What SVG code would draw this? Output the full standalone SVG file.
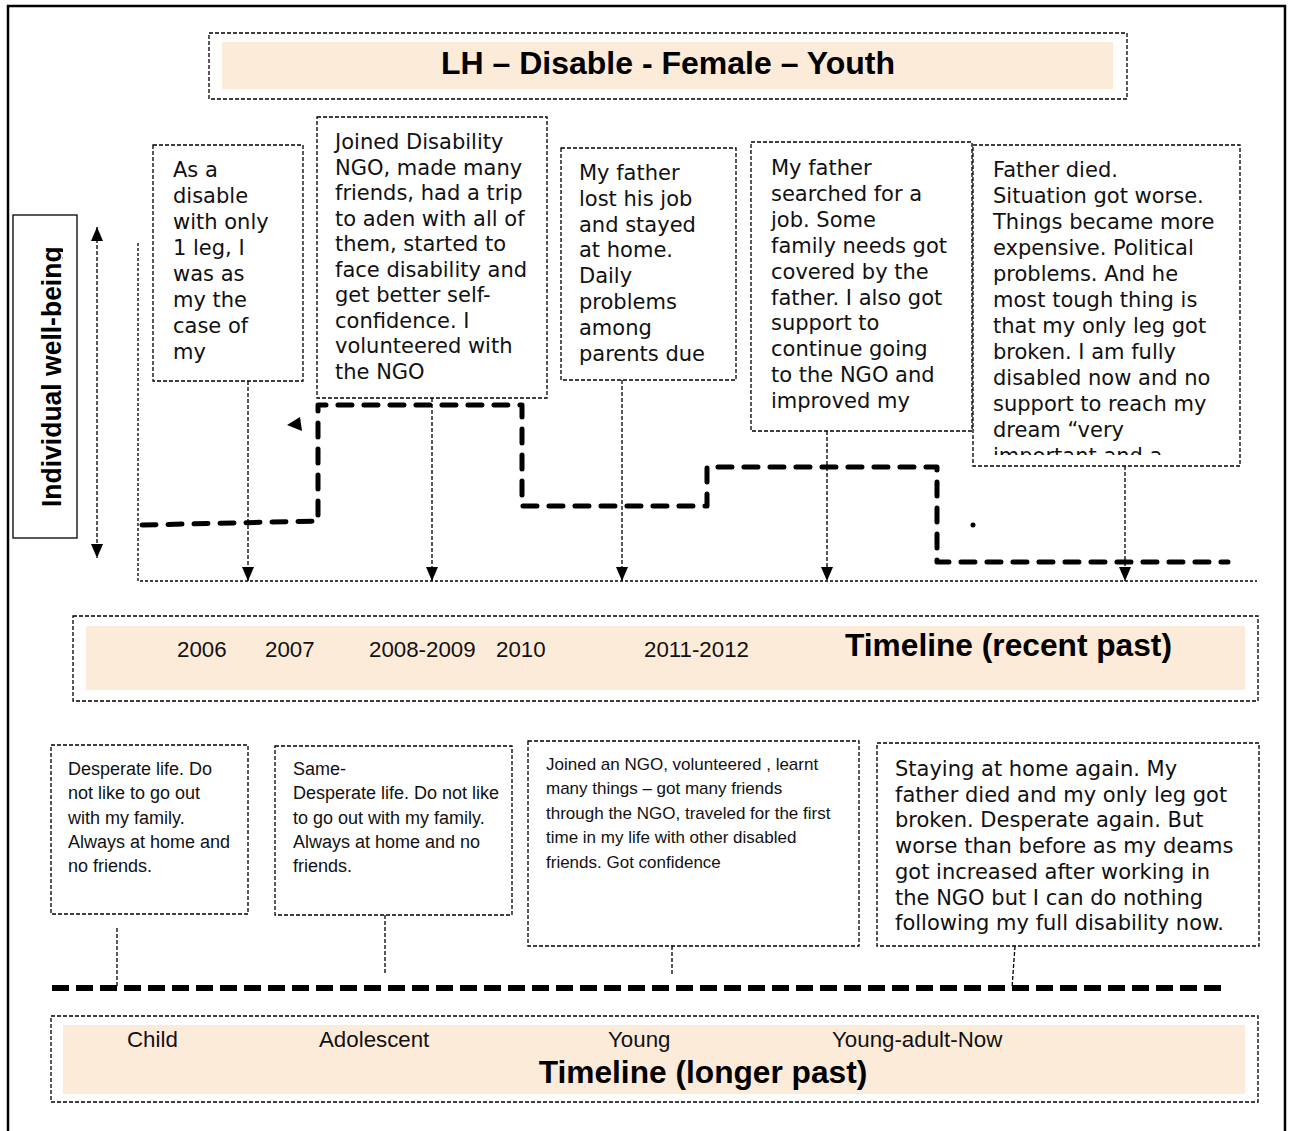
<svg xmlns="http://www.w3.org/2000/svg" width="1292" height="1131" viewBox="0 0 1292 1131">
<style>
.box{fill:#fff;stroke:#000;stroke-width:1.3;stroke-dasharray:4 2}
.band{fill:#FDEBDA;stroke:none}
.ver{font-family:"DejaVu Sans",Verdana,sans-serif;font-size:21px;fill:#111}
.ar{font-family:"Liberation Sans",Arial,sans-serif;font-size:18px;fill:#111}
.ar17{font-family:"Liberation Sans",Arial,sans-serif;font-size:17px;fill:#111}
.lab{font-family:"Liberation Sans",Arial,sans-serif;font-size:22.3px;fill:#111}
.big{font-family:"Liberation Sans",Arial,sans-serif;font-size:31.7px;font-weight:bold;fill:#000}
.con{fill:none;stroke:#000;stroke-width:1.3;stroke-dasharray:4 2}
.thick{fill:none;stroke:#000;stroke-width:5;stroke-dasharray:14 12;stroke-linecap:round;stroke-linejoin:round}
.thick2{fill:none;stroke:#000;stroke-width:6;stroke-dasharray:17 7}
</style>
<defs>
<marker id="ah" markerUnits="userSpaceOnUse" markerWidth="14" markerHeight="14" viewBox="0 0 14 12" refX="14" refY="6" orient="auto-start-reverse"><path d="M0,0 L14,6 L0,12 z" fill="#000"/></marker>
<clipPath id="clip5"><rect x="973" y="145" width="267" height="310"/></clipPath>
<clipPath id="clipL"><rect x="13" y="215" width="50" height="323"/></clipPath>
</defs>
<rect x="8" y="6" width="1277" height="1140" fill="none" stroke="#000" stroke-width="2.5"/>

<g id="title">
<rect class="box" x="209" y="33" width="918" height="66"/>
<rect class="band" x="222" y="42" width="891" height="47"/>
<text class="big" x="668" y="74" text-anchor="middle" style="font-size:32px">LH – Disable - Female – Youth</text>
</g>

<g id="axis-label">
<rect x="13" y="215" width="64" height="323" fill="#fff" stroke="#000" stroke-width="1.3"/>
<g clip-path="url(#clipL)">
<text transform="translate(61,507) rotate(-90) scale(0.93,1)" style="font-family:'Liberation Sans',Arial,sans-serif;font-size:28.5px;font-weight:bold">Individual well-being</text>
</g>
</g>

<g id="connectors">
<line class="con" x1="97" y1="227" x2="97" y2="558" marker-start="url(#ah)" marker-end="url(#ah)"/>
<path class="con" d="M138,243 L138,581 L1257,581" style="stroke-dasharray:3 2"/>
<line class="con" x1="248" y1="381" x2="248" y2="581" marker-end="url(#ah)"/>
<line class="con" x1="432" y1="398" x2="432" y2="581" marker-end="url(#ah)"/>
<line class="con" x1="622" y1="380" x2="622" y2="581" marker-end="url(#ah)"/>
<line class="con" x1="827" y1="431" x2="827" y2="581" marker-end="url(#ah)"/>
<line class="con" x1="1125" y1="466" x2="1125" y2="581" marker-end="url(#ah)"/>
<path class="thick" d="M142,525 L318,521 L318,405 L522,405 L522,506 L707,506 L707,467 L937,467 L937,562 L1228,562"/>
<polygon points="300,417 302,431 287,425" fill="#000"/>
<circle cx="973" cy="525" r="2.5" fill="#000"/>
<line class="con" x1="117" y1="928" x2="117" y2="988"/>
<line class="con" x1="385" y1="915" x2="385" y2="975"/>
<line class="con" x1="672" y1="946" x2="672" y2="975"/>
<line class="con" x1="1015" y1="946" x2="1012" y2="988"/>
<line class="thick2" x1="52" y1="988" x2="1222" y2="988"/>
</g>

<g id="box1">
<rect class="box" x="153" y="145" width="150" height="236"/>
<text class="ver" x="173" y="177">
<tspan x="173" dy="0">As a</tspan><tspan x="173" dy="26">disable</tspan><tspan x="173" dy="26">with only</tspan><tspan x="173" dy="26">1 leg, I</tspan><tspan x="173" dy="26">was as</tspan><tspan x="173" dy="26">my the</tspan><tspan x="173" dy="26">case of</tspan><tspan x="173" dy="26">my</tspan>
</text>
</g>

<g id="box2">
<rect class="box" x="317" y="117" width="230" height="281"/>
<text class="ver" x="335" y="149">
<tspan x="335" dy="0">Joined Disability</tspan><tspan x="335" dy="25.5">NGO, made many</tspan><tspan x="335" dy="25.5">friends, had a trip</tspan><tspan x="335" dy="25.5">to aden with all of</tspan><tspan x="335" dy="25.5">them, started to</tspan><tspan x="335" dy="25.5">face disability and</tspan><tspan x="335" dy="25.5">get better self-</tspan><tspan x="335" dy="25.5">confidence. I</tspan><tspan x="335" dy="25.5">volunteered with</tspan><tspan x="335" dy="25.5">the NGO</tspan>
</text>
</g>

<g id="box3">
<rect class="box" x="561" y="148" width="175" height="232"/>
<text class="ver" x="579" y="180">
<tspan x="579" dy="0">My father</tspan><tspan x="579" dy="25.8">lost his job</tspan><tspan x="579" dy="25.8">and stayed</tspan><tspan x="579" dy="25.8">at home.</tspan><tspan x="579" dy="25.8">Daily</tspan><tspan x="579" dy="25.8">problems</tspan><tspan x="579" dy="25.8">among</tspan><tspan x="579" dy="25.8">parents due</tspan>
</text>
</g>

<g id="box4">
<rect class="box" x="751" y="142" width="221" height="289"/>
<text class="ver" x="771" y="175">
<tspan x="771" dy="0">My father</tspan><tspan x="771" dy="25.9">searched for a</tspan><tspan x="771" dy="25.9">job. Some</tspan><tspan x="771" dy="25.9">family needs got</tspan><tspan x="771" dy="25.9">covered by the</tspan><tspan x="771" dy="25.9">father. I also got</tspan><tspan x="771" dy="25.9">support to</tspan><tspan x="771" dy="25.9">continue going</tspan><tspan x="771" dy="25.9">to the NGO and</tspan><tspan x="771" dy="25.9">improved my</tspan>
</text>
</g>

<g id="box5">
<rect class="box" x="973" y="145" width="267" height="321"/>
<text class="ver" x="993" y="177" clip-path="url(#clip5)">
<tspan x="993" dy="0">Father died.</tspan><tspan x="993" dy="26">Situation got worse.</tspan><tspan x="993" dy="26">Things became more</tspan><tspan x="993" dy="26">expensive. Political</tspan><tspan x="993" dy="26">problems. And he</tspan><tspan x="993" dy="26">most tough thing is</tspan><tspan x="993" dy="26">that my only leg got</tspan><tspan x="993" dy="26">broken. I am fully</tspan><tspan x="993" dy="26">disabled now and no</tspan><tspan x="993" dy="26">support to reach my</tspan><tspan x="993" dy="26">dream “very</tspan><tspan x="993" dy="26">important and a</tspan>
</text>
</g>

<g id="timeline-recent">
<rect class="box" x="73" y="616" width="1185" height="85"/>
<rect class="band" x="86" y="626" width="1159" height="64"/>
<text class="lab" x="177" y="657">2006</text>
<text class="lab" x="265" y="657">2007</text>
<text class="lab" x="369" y="657">2008-2009</text>
<text class="lab" x="496" y="657">2010</text>
<text class="lab" x="644" y="657">2011-2012</text>
<text class="big" x="845" y="656">Timeline (recent past)</text>
</g>

<g id="boxA">
<rect class="box" x="51" y="745" width="197" height="169"/>
<text class="ar" x="68" y="775">
<tspan x="68" dy="0">Desperate life. Do</tspan><tspan x="68" dy="24.3">not like to go out</tspan><tspan x="68" dy="24.3">with my family.</tspan><tspan x="68" dy="24.3">Always at home and</tspan><tspan x="68" dy="24.3">no friends.</tspan>
</text>
</g>

<g id="boxB">
<rect class="box" x="275" y="746" width="237" height="169"/>
<text class="ar" x="293" y="775">
<tspan x="293" dy="0">Same-</tspan><tspan x="293" dy="24.3">Desperate life. Do not like</tspan><tspan x="293" dy="24.3">to go out with my family.</tspan><tspan x="293" dy="24.3">Always at home and no</tspan><tspan x="293" dy="24.3">friends.</tspan>
</text>
</g>

<g id="boxC">
<rect class="box" x="528" y="741" width="331" height="205"/>
<text class="ar17" x="546" y="770">
<tspan x="546" dy="0">Joined an NGO, volunteered , learnt</tspan><tspan x="546" dy="24.4">many things – got many friends</tspan><tspan x="546" dy="24.4">through the NGO, traveled for the first</tspan><tspan x="546" dy="24.4">time in my life with other disabled</tspan><tspan x="546" dy="24.4">friends. Got confidence</tspan>
</text>
</g>

<g id="boxD">
<rect class="box" x="877" y="743" width="382" height="203"/>
<text class="ver" x="895" y="776">
<tspan x="895" dy="0">Staying at home again. My</tspan><tspan x="895" dy="25.7">father died and my only leg got</tspan><tspan x="895" dy="25.7">broken. Desperate again. But</tspan><tspan x="895" dy="25.7">worse than before as my deams</tspan><tspan x="895" dy="25.7">got increased after working in</tspan><tspan x="895" dy="25.7">the NGO but I can do nothing</tspan><tspan x="895" dy="25.7">following my full disability now.</tspan>
</text>
</g>

<g id="timeline-longer">
<rect class="box" x="51" y="1016" width="1207" height="86"/>
<rect class="band" x="63" y="1025" width="1182" height="69"/>
<text class="lab" x="127" y="1047">Child</text>
<text class="lab" x="319" y="1047">Adolescent</text>
<text class="lab" x="608" y="1047">Young</text>
<text class="lab" x="832" y="1047">Young-adult-Now</text>
<text class="big" x="703" y="1083" text-anchor="middle">Timeline (longer past)</text>
</g>
</svg>
